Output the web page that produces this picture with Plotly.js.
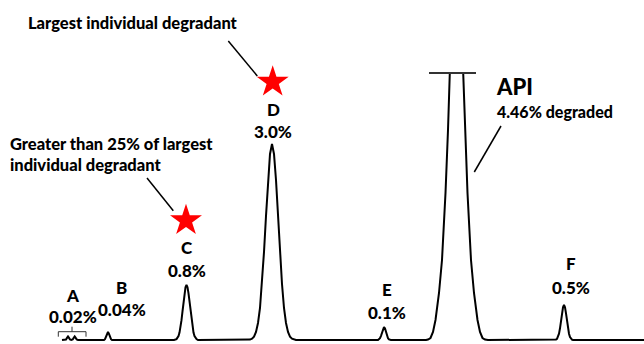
<!DOCTYPE html>
<html>
<head>
<meta charset="utf-8">
<script src="https://cdn.plot.ly/plotly-3.0.1.min.js"></script>
<style>html,body{margin:0;padding:0;background:#fff;}#chart{width:644px;height:344px;}</style>
</head>
<body>
<div id="chart"></div>
<script>
// Chromatogram trace (retention position, detector response above baseline)
const traceTime = [
  62, 65, 66, 67, 68, 69, 70, 71.3, 72.7, 73.7, 74.7, 75.7, 76.7, 78,
  104, 105, 106, 107, 108, 109, 110, 111, 112,
  174, 176.5, 177.5, 178.5, 179.5, 180.5, 181.5, 182.5, 183.5, 184.5, 185.5, 186.5, 187.5, 188.5, 189.5, 190.5, 191.5, 192.5, 193.5, 194.5, 195.5, 196.5, 198,
  250, 252, 254, 256, 258, 260, 262, 264, 266, 268, 270, 272, 274, 276, 278, 280, 282, 284, 286, 288, 290, 292, 294, 296,
  378, 379, 380, 381, 382, 383, 384, 385, 386, 387, 388, 389, 390, 391,
  426, 428, 430.5, 433, 435.5, 439, 442, 445.5, 448, 449.8, null,
  463.2, 465, 467.5, 471, 474, 477.5, 480, 482.5, 485, 488,
  555, 556, 557, 558, 559, 560, 561, 562, 563, 564, 565, 566, 567, 568, 569, 570, 571, 572, 573,
  644
];
const traceSignal = [
  0, 0, 0.5, 2.1, 3.5, 2.1, 0.5, 0.1, 0.5, 2.1, 3.5, 2.1, 0.5, 0,
  0, 0.8, 2.9, 6.2, 8, 6.2, 2.9, 0.8, 0,
  0, 0.9, 2.0, 4.0, 7.4, 12.7, 19.8, 28.6, 38.1, 46.7, 52.8, 55, 52.8, 46.7, 38.1, 28.6, 19.8, 12.7, 7.4, 4.0, 2.0, 0.9, 0,
  0.4, 1.3, 3.3, 8, 17, 32, 56, 88, 124, 160, 186, 196, 186, 160, 124, 88, 56, 32, 17, 8, 3.3, 1.3, 0.4, 0,
  0, 0.6, 1.8, 4.2, 7.9, 11.5, 13, 11.5, 7.9, 4.2, 1.8, 0.6, 0, 0,
  0, 0.5, 2, 8, 20, 47, 80, 147, 210, 267, null,
  267, 210, 147, 80, 47, 20, 8, 2, 0.5, 0,
  0, 0.4, 1.2, 3.0, 6.3, 11.7, 18.9, 26.6, 32.7, 35, 32.7, 26.6, 18.9, 11.7, 6.3, 3.0, 1.2, 0.4, 0,
  0
];
// Off-scale API peak (clipped at top)
const apiCapTime = [429, 476];
const apiCapSignal = [267, 267];

// Peak labels
const peakNames = ["A", "B", "C", "D", "E", "F"];
const peakPercents = ["0.02%", "0.04%", "0.8%", "3.0%", "0.1%", "0.5%"];
const apiName = "API";
const apiDegraded = "4.46% degraded";
const noteLargest = "Largest individual degradant";
const noteGreater = "Greater than 25% of largest<br>individual degradant";
// Flagged peaks (stars)
const flaggedPeaks = ["C", "D"];

// ---------- layout helpers (positions, in axis units) ----------
const Y0 = 340; // pixel row of baseline -> y = Y0 - pixelY
const py = p => Y0 - p;
const labelPos = {
  A: [72.5, 295, 316], B: [121.7, 287.5, 309], C: [186.5, 247, 270.5],
  D: [273, 109, 131], E: [387, 289, 312.5], F: [570.5, 263, 287]
};
const starPos = {C: [186, 220.5], D: [272.7, 82]};

const font = {family: "Lato, 'Open Sans', sans-serif", size: 17, color: "#000", weight: 900};
const annotations = [];
peakNames.forEach((n, i) => {
  const p = labelPos[n];
  annotations.push({x: p[0], y: py(p[1]), text: n, showarrow: false, xanchor: "center", yanchor: "middle", font: font});
  annotations.push({x: p[0], y: py(p[2]), text: peakPercents[i], showarrow: false, xanchor: "center", yanchor: "middle", font: font});
});
annotations.push({x: 494, y: py(86), text: apiName, showarrow: false, xanchor: "left", yanchor: "middle", font: Object.assign({}, font, {size: 22})});
annotations.push({x: 495, y: py(111), text: apiDegraded, showarrow: false, xanchor: "left", yanchor: "middle", font: Object.assign({}, font, {size: 16})});
annotations.push({x: 26, y: py(23), text: noteLargest, showarrow: false, xanchor: "left", yanchor: "middle", font: Object.assign({}, font, {size: 16.5})});
annotations.push({x: 8, y: py(154), text: noteGreater, showarrow: false, xanchor: "left", yanchor: "middle", align: "left", font: Object.assign({}, font, {size: 16.5})});

const traces = [
  {x: traceTime, y: traceSignal, type: "scatter", mode: "lines", connectgaps: false,
   line: {color: "#000", width: 2}, hoverinfo: "skip"},
  {x: apiCapTime, y: apiCapSignal, type: "scatter", mode: "lines",
   line: {color: "#333", width: 2.2}, hoverinfo: "skip"},
  // bracket over peak A
  {x: [58.3, 58.3, 86, 86, null, 72, 72], y: [py(336.7), py(331.7), py(331.7), py(336.7), null, py(331.7), py(326.7)],
   type: "scatter", mode: "lines", line: {color: "#333", width: 1}, hoverinfo: "skip"},
  // stars on flagged peaks
  {x: flaggedPeaks.map(n => starPos[n][0]), y: flaggedPeaks.map(n => py(starPos[n][1])),
   type: "scatter", mode: "markers", marker: {symbol: "star", size: 24, color: "#ff0000", line: {width: 0}}, hoverinfo: "skip"}
];

const shapes = [
  {type: "line", x0: 228.3, y0: py(41), x1: 257.3, y1: py(76), line: {color: "#000", width: 1.5}},
  {type: "line", x0: 147, y0: py(178), x1: 173.3, y1: py(210.7), line: {color: "#000", width: 1.5}},
  {type: "line", x0: 501, y0: py(126), x1: 474.3, y1: py(172), line: {color: "#000", width: 1.5}}
];

const layout = {
  width: 644, height: 344,
  margin: {l: 0, r: 0, t: 0, b: 0},
  paper_bgcolor: "#fff", plot_bgcolor: "#fff",
  showlegend: false,
  xaxis: {range: [0, 644], visible: false, fixedrange: true},
  yaxis: {range: [-4, 340], visible: false, fixedrange: true},
  annotations: annotations,
  shapes: shapes
};

Plotly.newPlot("chart", traces, layout, {displayModeBar: false, staticPlot: true});
</script>
</body>
</html>
